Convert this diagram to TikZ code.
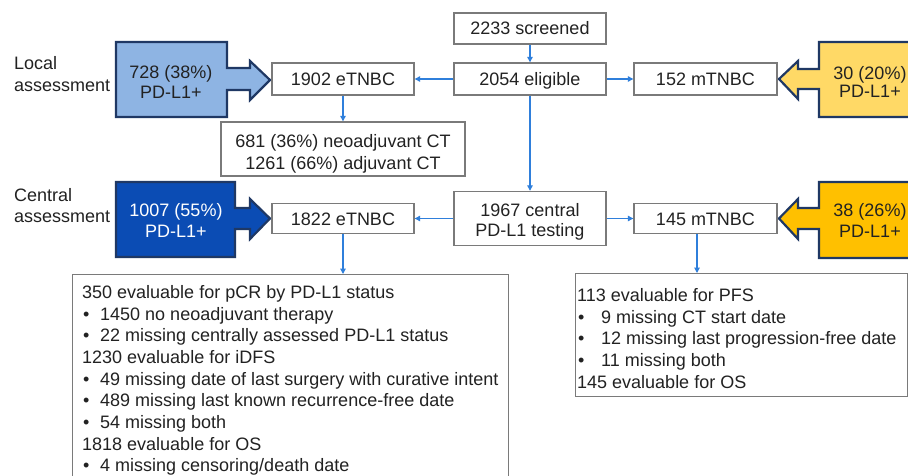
\documentclass[tikz,border=0pt]{standalone}
\usepackage{fontspec}
\setmainfont{Liberation Sans}
\usetikzlibrary{arrows.meta}
\definecolor{connc}{HTML}{2F7FDB}
\definecolor{boxline}{HTML}{7A7A7A}
\definecolor{txt}{HTML}{222222}
\definecolor{navy}{HTML}{1F3864}
\definecolor{lblue}{HTML}{8EB4E3}
\definecolor{dblue}{HTML}{0B4CB4}
\definecolor{lyel}{HTML}{FFD966}
\definecolor{oyel}{HTML}{FFC000}
\begin{document}
\begin{tikzpicture}[x=1pt,y=-1pt,
  font=\fontsize{18}{21.67}\selectfont, text=txt,
  box/.style={draw=boxline, line width=1.4pt, fill=white, inner sep=0pt, align=center},
  one/.style={text height=13pt, text depth=0pt},
  conn/.style={draw=connc, line width=1.2pt, -{Triangle[length=5.5pt,width=5.5pt]}},
  blk/.style={draw=navy, line width=2.2pt, line join=miter},
  lbl/.style={inner sep=0pt, align=left, anchor=west},
  ln/.style={inner sep=0pt, anchor=base west},
  bul/.style={ln, xshift=1pt},
  two/.style={inner sep=0pt, align=center},
]
\useasboundingbox (0,0) rectangle (908,476);
\clip (0,0) rectangle (908,476);
\fill[white] (0,0) rectangle (908,476);

% block arrows
\draw[blk, fill=lblue] (116,42) -- (227,42) -- (227,68) -- (250,68) -- (250,61) -- (270,80)
  -- (250,100) -- (250,90) -- (227,90) -- (227,117) -- (116,117) -- cycle;
\draw[blk, fill=dblue] (116,182) -- (235,182) -- (235,208) -- (250,208) -- (250,199) -- (270,218.5)
  -- (250,239) -- (250,229) -- (235,229) -- (235,257) -- (116,257) -- cycle;
\draw[blk, fill=lyel] (925,42) -- (819,42) -- (819,69) -- (798,69) -- (798,61) -- (779,79)
  -- (798,99) -- (798,89) -- (819,89) -- (819,117) -- (925,117) -- cycle;
\draw[blk, fill=oyel] (925,182) -- (819,182) -- (819,208) -- (798,208) -- (798,199) -- (779,218.5)
  -- (798,239) -- (798,229) -- (819,229) -- (819,258) -- (925,258) -- cycle;

\node[two, font=\fontsize{18}{20}\selectfont] (pl1) at (171,82) {728 (38\%)\\PD-L1+};
\node[two, text=white, font=\fontsize{18}{21}\selectfont] (pc1) at (176,220.5) {1007 (55\%)\\PD-L1+};
\node[two, font=\fontsize{18}{18}\selectfont] (pl2) at (870,82) {30 (20\%)\\PD-L1+};
\node[two, font=\fontsize{18}{21}\selectfont] (pc2) at (870,220.5) {38 (26\%)\\PD-L1+};

% side labels
\node[lbl, font=\fontsize{18}{22}\selectfont] (loc) at (14,74) {Local\\assessment};
\node[lbl, font=\fontsize{18}{21}\selectfont] (cenl) at (14,206) {Central\\assessment};

% boxes
\node[box, one, minimum width=152pt, minimum height=31pt] (scr) at (530,28.5) {2233 screened};
\node[box, one, minimum width=152pt, minimum height=32pt] (elig) at (530,79) {2054 eligible};
\node[box, one, minimum width=142pt, minimum height=32pt] (e1) at (343,79) {1902 eTNBC};
\node[box, one, minimum width=143pt, minimum height=32pt] (m1) at (705.5,79) {152 mTNBC};
\node[box, minimum width=244pt, minimum height=54pt] (ct) at (343,149) {};
\node[two, font=\fontsize{18}{22}\selectfont] (ctt) at (343,154) {681 (36\%) neoadjuvant CT\\1261 (66\%) adjuvant CT};
\node[box, minimum width=152pt, minimum height=54pt] (cen) at (530,218.5) {};
\node[two, font=\fontsize{18}{20}\selectfont] (cent) at (530,222) {1967 central\\PD-L1 testing};
\node[box, one, minimum width=142pt, minimum height=30pt] (e2) at (343,218.5) {1822 eTNBC};
\node[box, one, minimum width=143pt, minimum height=30pt] (m2) at (705.5,218.5) {145 mTNBC};

\node[box, anchor=north west, minimum width=436pt, minimum height=240pt] (big) at (72,274) {};
\node[box, anchor=north west, minimum width=332pt, minimum height=123pt] (rbox) at (575,273) {};

% big box text
\node[ln] (b1) at (82,298.5) {350 evaluable for pCR by PD-L1 status};
\node[bul] (b2) at (82,320.2) {\makebox[17pt][l]{\textbullet}1450 no neoadjuvant therapy};
\node[bul] (b3) at (82,341.8) {\makebox[17pt][l]{\textbullet}22 missing centrally assessed PD-L1 status};
\node[ln] (b4) at (82,363.5) {1230 evaluable for iDFS};
\node[bul] (b5) at (82,385.2) {\makebox[17pt][l]{\textbullet}49 missing date of last surgery with curative intent};
\node[bul] (b6) at (82,406.8) {\makebox[17pt][l]{\textbullet}489 missing last known recurrence-free date};
\node[bul] (b7) at (82,428.5) {\makebox[17pt][l]{\textbullet}54 missing both};
\node[ln] (b8) at (82,450.2) {1818 evaluable for OS};
\node[bul] (b9) at (82,471.8) {\makebox[17pt][l]{\textbullet}4 missing censoring/death date};

% right box text
\node[ln] (r1) at (577,301.3) {113 evaluable for PFS};
\node[bul] (r2) at (577,323) {\makebox[23pt][l]{\textbullet}9 missing CT start date};
\node[bul] (r3) at (577,344.7) {\makebox[23pt][l]{\textbullet}12 missing last progression-free date};
\node[bul] (r4) at (577,366.3) {\makebox[23pt][l]{\textbullet}11 missing both};
\node[ln] (r5) at (577,388) {145 evaluable for OS};

% connectors
\draw[conn] (scr) -- (elig);
\draw[conn] (elig) -- (e1);
\draw[conn] (elig) -- (m1);
\draw[conn] (e1) -- (ct);
\draw[conn] (elig) -- (cen);
\draw[conn] (cen) -- (e2);
\draw[conn] (cen) -- (m2);
\draw[conn] (e2.south) -- (e2.south |- big.north);
\coordinate (m2b) at (697,233.5);
\draw[conn] (m2b) -- (m2b |- rbox.north);
\end{tikzpicture}
\end{document}
